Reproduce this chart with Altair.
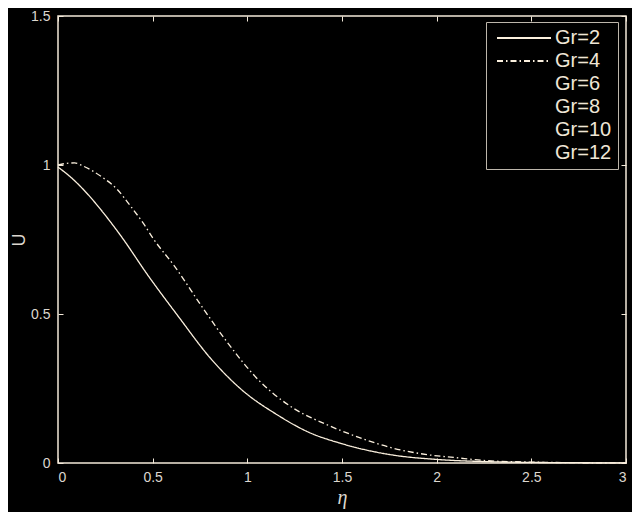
import altair as alt
import pandas as pd

# Values
eta_gr2 = [0.0, 0.071, 0.157, 0.244, 0.33, 0.477, 0.633, 0.806, 0.979, 1.152,
           1.325, 1.498, 1.775, 2.0, 2.3, 2.5, 2.75, 3.0]
u_gr2 = [0.993, 0.957, 0.902, 0.836, 0.764, 0.628, 0.494, 0.351, 0.241, 0.164,
         0.103, 0.065, 0.026, 0.012, 0.004, 0.002, 0.001, 0.0]

eta_gr4 = [0.0, 0.04, 0.088, 0.131, 0.227, 0.313, 0.382, 0.452, 0.503, 0.616,
           0.763, 0.893, 1.066, 1.238, 1.411, 1.585, 1.775, 1.95, 2.1, 2.26,
           2.5, 2.75, 3.0]
u_gr4 = [1.0, 1.005, 1.007, 0.997, 0.962, 0.918, 0.863, 0.803, 0.753, 0.66,
         0.522, 0.406, 0.274, 0.186, 0.131, 0.087, 0.049, 0.028, 0.018, 0.008,
         0.003, 0.001, 0.0]

gr_labels = ["Gr=2", "Gr=4", "Gr=6", "Gr=8", "Gr=10", "Gr=12"]
line_colors = ["#fbf0de", "#fbf0de", "#000000", "#000000", "#000000", "#000000"]
line_dashes = [[1, 0], [6, 3, 1.5, 3], [1, 0], [1, 0], [1, 0], [1, 0]]

x_ticks = [0, 0.5, 1, 1.5, 2, 2.5, 3]
y_ticks = [0, 0.5, 1, 1.5]

rows = []
for e, u in zip(eta_gr2, u_gr2):
    rows.append({"eta": e, "U": u, "Gr": "Gr=2"})
for e, u in zip(eta_gr4, u_gr4):
    rows.append({"eta": e, "U": u, "Gr": "Gr=4"})
df = pd.DataFrame(rows)

FG = "#f3e9d9"
TXT = "#dcd7cf"

xscale = alt.Scale(domain=[0, 3], nice=False, zero=False)
yscale = alt.Scale(domain=[0, 1.5], nice=False, zero=False)

common_axis = dict(domain=False, tickSize=5, offset=-5, tickColor=FG, tickWidth=1,
                   grid=False, labelColor=TXT, labelFont="Liberation Sans",
                   labelFontSize=14, titleColor=TXT)

legend = alt.Legend(
    title=None, orient="none", legendX=428, legendY=6,
    symbolType="M-4.5,0H4.5", symbolSize=144, symbolStrokeWidth=1.8,
    symbolOffset=22, labelOffset=21,
    labelFont="Liberation Sans", labelFontSize=20, labelColor="#efe6d6",
    rowPadding=3, padding=6,
    strokeColor="#bdb6ab", fillColor="#000000", cornerRadius=0,
)

lines = alt.Chart(df).mark_line(strokeWidth=1.3, interpolate="monotone").encode(
    x=alt.X("eta:Q", scale=xscale,
            axis=alt.Axis(orient="bottom", values=x_ticks, format="~g",
                          labelPadding=7, title="η", titleFont="Liberation Serif",
                          titleFontStyle="italic", titleFontWeight="normal",
                          titleFontSize=20, titlePadding=3, **common_axis)),
    y=alt.Y("U:Q", scale=yscale,
            axis=alt.Axis(orient="left", values=y_ticks, format="~g",
                          labelPadding=8, title="U", titleFont="Liberation Sans",
                          titleFontWeight="normal", titleFontSize=18,
                          titlePadding=2, **common_axis)),
    color=alt.Color("Gr:N", scale=alt.Scale(domain=gr_labels, range=line_colors),
                    legend=legend),
    strokeDash=alt.StrokeDash("Gr:N", scale=alt.Scale(domain=gr_labels, range=line_dashes),
                              legend=legend),
)

frame = alt.Chart(df).mark_line(strokeOpacity=0).encode(
    x=alt.X("eta:Q", scale=xscale,
            axis=alt.Axis(orient="top", values=x_ticks, labels=False, title=None,
                          **common_axis)),
    y=alt.Y("U:Q", scale=yscale,
            axis=alt.Axis(orient="right", values=y_ticks, labels=False, title=None,
                          **common_axis)),
    detail="Gr:N",
)

chart = alt.layer(lines, frame).resolve_axis(x="independent", y="independent").properties(
    width=568, height=447,
    background="#000000",
    autosize=alt.AutoSizeParams(type="none"),
    padding={"left": 50, "top": 8, "right": 6, "bottom": 49},
).configure_view(stroke=FG, strokeWidth=1.5)

chart.save("out.html", embed_options={"renderer": "svg", "actions": False})
